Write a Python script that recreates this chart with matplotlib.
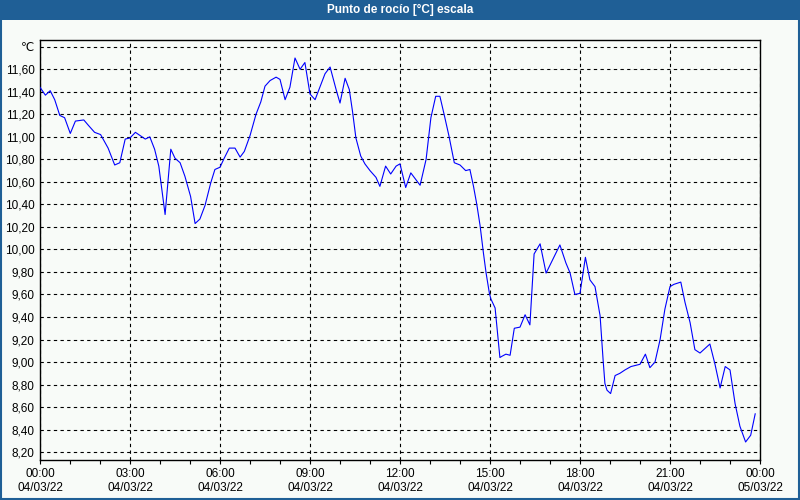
import matplotlib
matplotlib.use("Agg")
import matplotlib.pyplot as plt
from matplotlib.patches import Rectangle
from matplotlib.ticker import MultipleLocator

# time of day in hours (04/03/22), dew point in degrees C
hours = [0.00, 0.18, 0.34, 0.49, 0.66, 0.82, 1.01, 1.18, 1.46, 1.62, 1.82, 2.02,
         2.27, 2.49, 2.66, 2.84, 3.00, 3.18, 3.51, 3.66, 3.82, 3.96, 4.17, 4.36,
         4.50, 4.67, 4.83, 5.02, 5.17, 5.33, 5.50, 5.69, 5.83, 6.00, 6.14, 6.31,
         6.50, 6.67, 6.81, 7.00, 7.20, 7.36, 7.50, 7.67, 7.87, 8.00, 8.17, 8.33,
         8.50, 8.67, 8.83, 9.00, 9.17, 9.50, 9.67, 9.87, 10.00, 10.17, 10.31, 10.42,
         10.53, 10.69, 10.83, 11.00, 11.20, 11.33, 11.52, 11.69, 11.87, 12.00, 12.19, 12.36,
         12.67, 12.87, 13.03, 13.19, 13.33, 13.47, 13.63, 13.81, 14.00, 14.19, 14.33, 14.45,
         14.56, 14.67, 14.78, 14.87, 14.98, 15.03, 15.17, 15.33, 15.39, 15.53, 15.67, 15.81,
         16.00, 16.17, 16.33, 16.47, 16.67, 16.87, 17.33, 17.53, 17.67, 17.83, 18.00, 18.18,
         18.33, 18.50, 18.67, 18.77, 18.83, 18.90, 19.02, 19.17, 19.33, 19.50, 19.70, 20.00,
         20.18, 20.33, 20.50, 20.67, 20.83, 21.00, 21.13, 21.36, 21.50, 21.67, 21.83, 22.00,
         22.33, 22.50, 22.67, 22.84, 23.00, 23.17, 23.33, 23.52, 23.69, 23.84]
dew_point = [11.44, 11.37, 11.41, 11.33, 11.19, 11.17, 11.03, 11.14, 11.15, 11.10, 11.04, 11.02,
             10.90, 10.75, 10.77, 10.98, 10.99, 11.04, 10.98, 11.00, 10.89, 10.74, 10.31, 10.89,
             10.81, 10.77, 10.65, 10.47, 10.23, 10.27, 10.39, 10.59, 10.71, 10.73, 10.81, 10.90,
             10.90, 10.82, 10.87, 11.01, 11.20, 11.31, 11.45, 11.50, 11.53, 11.51, 11.33, 11.44,
             11.70, 11.60, 11.66, 11.38, 11.33, 11.56, 11.62, 11.42, 11.30, 11.52, 11.42, 11.22,
             10.99, 10.83, 10.76, 10.70, 10.64, 10.56, 10.74, 10.67, 10.74, 10.76, 10.55, 10.68,
             10.57, 10.80, 11.17, 11.36, 11.36, 11.20, 11.01, 10.77, 10.75, 10.70, 10.71, 10.56,
             10.40, 10.21, 9.97, 9.79, 9.61, 9.56, 9.48, 9.04, 9.05, 9.07, 9.06, 9.30,
             9.31, 9.42, 9.33, 9.96, 10.05, 9.79, 10.04, 9.88, 9.79, 9.60, 9.61, 9.93,
             9.73, 9.67, 9.41, 9.02, 8.81, 8.75, 8.72, 8.88, 8.90, 8.93, 8.96, 8.98,
             9.07, 8.95, 9.00, 9.20, 9.47, 9.67, 9.69, 9.71, 9.53, 9.35, 9.11, 9.08,
             9.16, 8.98, 8.77, 8.96, 8.93, 8.63, 8.43, 8.29, 8.35, 8.54]

x_ticks = [0, 3, 6, 9, 12, 15, 18, 21, 24]
x_labels = ["00:00\n04/03/22", "03:00\n04/03/22", "06:00\n04/03/22", "09:00\n04/03/22",
            "12:00\n04/03/22", "15:00\n04/03/22", "18:00\n04/03/22", "21:00\n04/03/22",
            "00:00\n05/03/22"]
y_ticks = [8.2, 8.4, 8.6, 8.8, 9.0, 9.2, 9.4, 9.6, 9.8, 10.0, 10.2, 10.4,
           10.6, 10.8, 11.0, 11.2, 11.4, 11.6, 11.8]
y_labels = [f"{v:.2f}".replace(".", ",") for v in y_ticks[:-1]] + ["\u2103"]
title = "Punto de rocío [°C] escala"

bg = "#f8fbf8"
bar = "#1f5f96"
plt.rcParams["font.family"] = ["Liberation Sans", "DejaVu Sans"]

fig = plt.figure(figsize=(8, 5), dpi=100, facecolor=bg)
ax = fig.add_axes([0.05, 0.08, 0.90, 0.84], facecolor=bg)

ax.plot(hours, dew_point, color="#0000ff", lw=0.8, zorder=3)

ax.set_xlim(0, 24)
ax.set_ylim(8.13, 11.86)
ax.set_xticks(x_ticks)
ax.set_xticklabels(x_labels, fontsize=8.5)
ax.xaxis.set_minor_locator(MultipleLocator(1))
ax.tick_params(axis="x", which="both", direction="out", length=3, width=0.8, pad=3, color="black")
ax.set_yticks(y_ticks)
ax.set_yticklabels(y_labels, fontsize=8.5)
ax.tick_params(axis="y", length=0, pad=4)

ax.grid(True, which="major", color="black", lw=0.8, linestyle=(0, (3, 3)))
for s in ax.spines.values():
    s.set_color("black")
    s.set_linewidth(1.0)

# title bar and window border
fig.patches.append(Rectangle((0, 0.96), 1, 0.04, transform=fig.transFigure,
                             facecolor=bar, edgecolor="none", zorder=0))
fig.patches.append(Rectangle((0.001, 0.002), 0.998, 0.996, transform=fig.transFigure,
                             facecolor="none", edgecolor=bar, lw=1.5, zorder=1))
fig.text(0.5, 0.98, title, color="white", fontsize=8.5, fontweight="bold",
         ha="center", va="center")

fig.savefig("out.png", dpi=100, facecolor=bg)
